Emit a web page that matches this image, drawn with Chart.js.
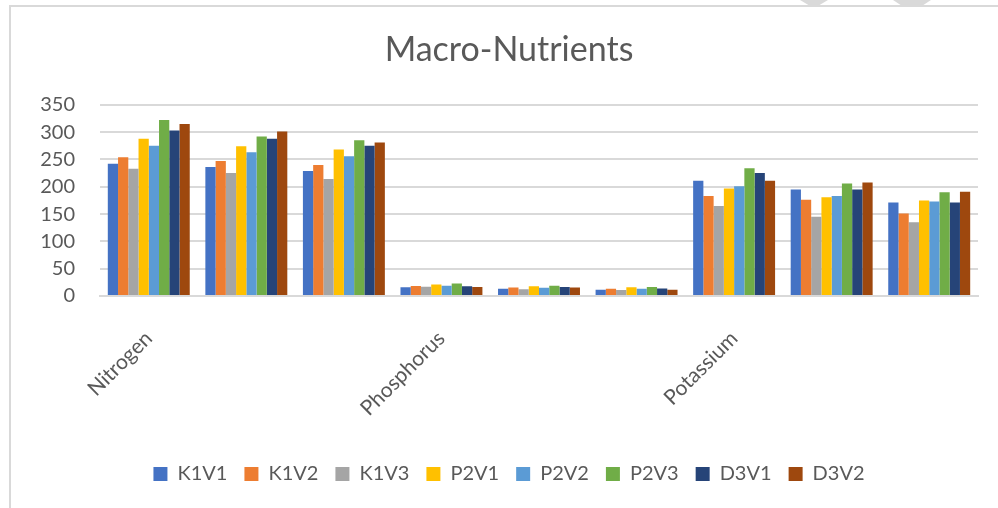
<!DOCTYPE html>
<html>
<head>
<meta charset="utf-8">
<script src="https://cdn.jsdelivr.net/npm/chart.js@4.4.0/dist/chart.umd.min.js"></script>
<style>
    html, body { margin: 0; padding: 0; background: #fff; }
    #wrap { position: relative; width: 998px; height: 508px; overflow: hidden; }
    #frame {
        position: absolute; left: 9px; top: 5px; right: -5px; bottom: -5px;
        border-left: 2px solid #d9d9d9; border-top: 2px solid #d9d9d9;
    }
    .mark { position: absolute; top: 0; height: 5px; background: #d9d9d9; }
    #chart { position: absolute; left: 0; top: 0; }
</style>
</head>
<body>
<div id="wrap">
    <div id="frame"></div>
    <div class="mark" style="left:800px;width:28px;clip-path:polygon(0 0,100% 0,70% 100%,30% 100%);"></div>
    <div class="mark" style="left:893px;width:38px;clip-path:polygon(0 0,100% 0,80% 100%,20% 100%);"></div>
    <canvas id="chart" width="998" height="508"></canvas>
</div>
<script>
// categories (one label every three groups, like the original)
const categories = ["Nitrogen", "", "", "Phosphorus", "", "", "Potassium", "", ""];

// series values
const k1v1 = [242, 236, 229, 16, 13.5, 11.5, 211, 195, 171];
const k1v2 = [254, 247, 240, 18.5, 15.5, 13.5, 183, 176, 151];
const k1v3 = [233, 225, 214, 17, 12.5, 11, 165, 145, 135];
const p2v1 = [288, 274, 268, 21, 18, 16, 197, 181, 175];
const p2v2 = [275, 263, 256, 19, 15, 13.5, 201, 183, 173];
const p2v3 = [322, 292, 285, 23, 19, 16.5, 234, 206, 190];
const d3v1 = [303, 288, 275, 18, 16.5, 14, 225, 195, 171];
const d3v2 = [315, 301, 281, 16.5, 15.5, 11.5, 211, 208, 191];

const seriesNames = ["K1V1", "K1V2", "K1V3", "P2V1", "P2V2", "P2V3", "D3V1", "D3V2"];
const seriesValues = [k1v1, k1v2, k1v3, p2v1, p2v2, p2v3, d3v1, d3v2];
const seriesColors = ["#4472C4", "#ED7D31", "#A5A5A5", "#FFC000", "#5B9BD5", "#70AD47", "#264478", "#9E480E"];

// y axis ticks
const yMin = 0;
const yMax = 350;
const yStep = 50;

const textColor = "#595959";
const gridColor = "#d9d9d9";

const ctx = document.getElementById("chart").getContext("2d");
new Chart(ctx, {
    type: "bar",
    data: {
        labels: categories,
        datasets: seriesNames.map((name, i) => ({
            label: name,
            data: seriesValues[i],
            backgroundColor: seriesColors[i],
            borderWidth: 0,
            categoryPercentage: 0.84,
            barPercentage: 1.0,
        })),
    },
    options: {
        responsive: false,
        maintainAspectRatio: false,
        animation: false,
        layout: {
            padding: { left: 40, right: 20, top: 0, bottom: 14 },
        },
        plugins: {
            title: {
                display: true,
                text: "Macro-Nutrients",
                color: textColor,
                font: { family: "Lato", size: 34, weight: "normal" },
                padding: { top: 30, bottom: 34 },
            },
            legend: {
                display: true,
                position: "bottom",
                labels: {
                    color: textColor,
                    font: { family: "Lato", size: 20 },
                    boxWidth: 14,
                    boxHeight: 14,
                    padding: 17,
                },
            },
            tooltip: { enabled: false },
        },
        scales: {
            y: {
                min: yMin,
                max: yMax,
                ticks: {
                    stepSize: yStep,
                    autoSkip: false,
                    color: textColor,
                    font: { family: "Lato", size: 20 },
                    padding: 25,
                },
                grid: {
                    color: gridColor,
                    lineWidth: 2,
                    drawTicks: false,
                },
                border: { display: false },
                // labels + one gap, not two
                afterFit: function (scale) {
                    scale.width = 60;
                },
            },
            x: {
                ticks: {
                    color: textColor,
                    font: { family: "Lato", size: 21 },
                    minRotation: 45,
                    maxRotation: 45,
                    autoSkip: false,
                    padding: 22,
                },
                grid: { display: false },
                border: { color: gridColor, width: 2 },
                // rotated labels may hang left past the plot, so no extra inset
                afterFit: function (scale) {
                    scale.paddingLeft = 0;
                    scale.height += 4;
                },
            },
        },
    },
});
</script>
</body>
</html>
